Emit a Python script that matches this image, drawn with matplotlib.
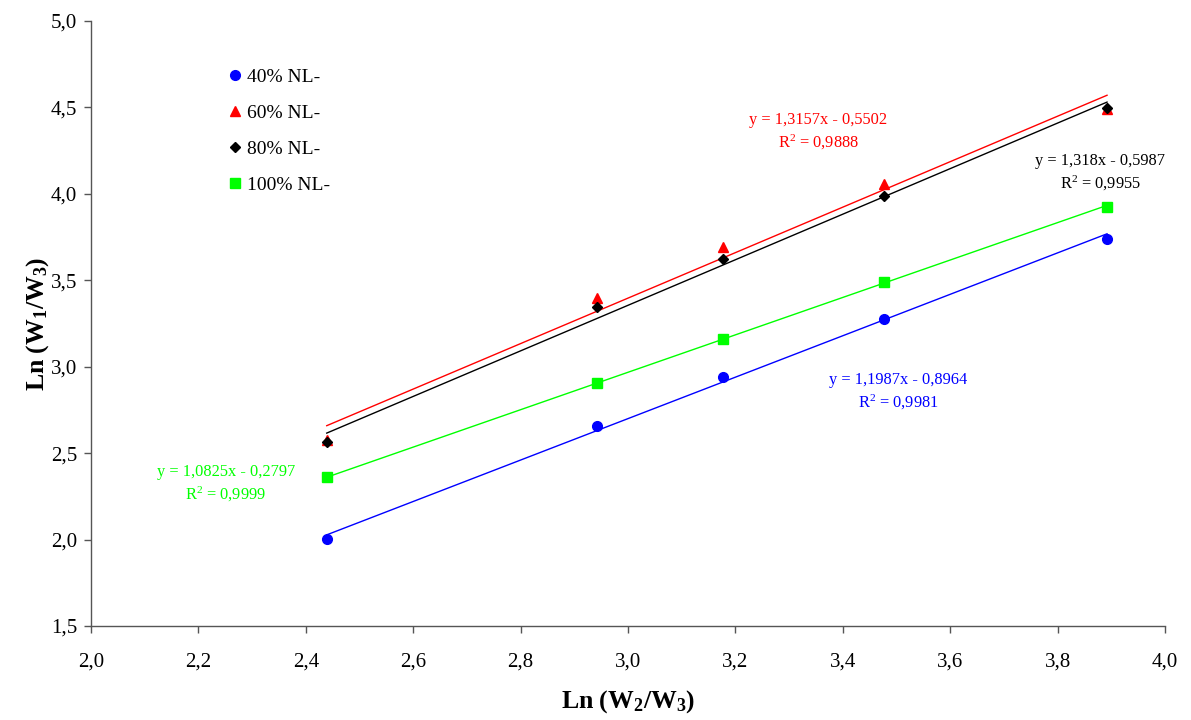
import numpy as np
import matplotlib
matplotlib.use("Agg")
import matplotlib.pyplot as plt
from matplotlib.ticker import FuncFormatter, MultipleLocator

# =========================================================
# Data
# =========================================================
x_vals = [2.439, 2.942, 3.177, 3.476, 3.892]

series_names = ["40% NL-", "60% NL-", "80% NL-", "100% NL-"]
y_40 = [2.003, 2.659, 2.939, 3.278, 3.740]
y_60 = [2.575, 3.396, 3.690, 4.057, 4.490]
y_80 = [2.566, 3.344, 3.621, 3.988, 4.495]
y_100 = [2.362, 2.904, 3.162, 3.490, 3.925]

# trend line coefficients shown on the chart
slopes = [1.1987, 1.3157, 1.318, 1.0825]
intercepts = [-0.8964, -0.5502, -0.5987, -0.2797]
r2_vals = [0.9981, 0.9888, 0.9955, 0.9999]

colors = ["#0000FF", "#FF0000", "#000000", "#00FF00"]
markers = ["o", "^", "D", "s"]
msizes = [7, 7.5, 5.5, 7]

# label anchor points (data coords) for the equations
eq_pos = [(3.503, 2.854), (3.354, 4.358), (3.879, 4.121), (2.251, 2.321)]

# =========================================================
# Style
# =========================================================
plt.rcParams['font.family'] = ['Liberation Serif', 'DejaVu Serif']
plt.rcParams['mathtext.fontset'] = 'custom'
plt.rcParams['mathtext.rm'] = 'Liberation Serif'
plt.rcParams['mathtext.it'] = 'Liberation Serif:italic'
plt.rcParams['mathtext.bf'] = 'Liberation Serif:bold'

fig = plt.figure(figsize=(11.91, 7.2), dpi=100)
ax = fig.add_axes([0.0764, 0.1306, 0.9018, 0.8402])

all_y = [y_40, y_60, y_80, y_100]
xs = np.array(x_vals)
xline = np.array([xs.min(), xs.max()])

for i in range(4):
    ax.plot(xs, all_y[i], linestyle='none', marker=markers[i],
            markersize=msizes[i], color=colors[i], label=series_names[i],
            zorder=3)
    ax.plot(xline, slopes[i] * xline + intercepts[i], color=colors[i],
            linewidth=1.0, zorder=2)
    sign = '-' if intercepts[i] < 0 else '+'
    eq = "y = {}x {} {}".format(str(slopes[i]).replace('.', ','), sign,
                                str(abs(intercepts[i])).replace('.', ','))
    r2 = "R$^2$ = " + str(r2_vals[i]).replace('.', ',')
    ax.text(eq_pos[i][0], eq_pos[i][1], eq + "\n" + r2, color=colors[i],
            fontsize=11.8, ha='center', va='center', linespacing=1.35)

# =========================================================
# Axes
# =========================================================
ax.set_xlim(2.0, 4.0)
ax.set_ylim(1.5, 5.0)
ax.xaxis.set_major_locator(MultipleLocator(0.2))
ax.yaxis.set_major_locator(MultipleLocator(0.5))
comma = FuncFormatter(lambda v, p: "{:.1f}".format(v).replace('.', ','))
ax.xaxis.set_major_formatter(comma)
ax.yaxis.set_major_formatter(comma)

for s in ['top', 'right']:
    ax.spines[s].set_visible(False)
for s in ['left', 'bottom']:
    ax.spines[s].set_color('#555555')
    ax.spines[s].set_linewidth(1.0)

ax.tick_params(axis='both', direction='out', length=5, width=1.0,
               color='#555555', labelsize=15)
ax.tick_params(axis='x', pad=14)
ax.tick_params(axis='y', pad=5)

ax.set_xlabel(r"Ln (W$_{\mathbf{2}}$/W$_{\mathbf{3}}$)", fontsize=18.5,
              fontweight='bold', labelpad=12)
ax.set_ylabel(r"Ln (W$_{\mathbf{1}}$/W$_{\mathbf{3}}$)", fontsize=18.5,
              fontweight='bold', labelpad=0)

ax.legend(loc='upper left', bbox_to_anchor=(0.1195, 0.935), frameon=False,
          fontsize=14, handletextpad=0.2, labelspacing=0.95,
          handlelength=0.8, borderaxespad=0)

plt.savefig("out.png", dpi=100)
